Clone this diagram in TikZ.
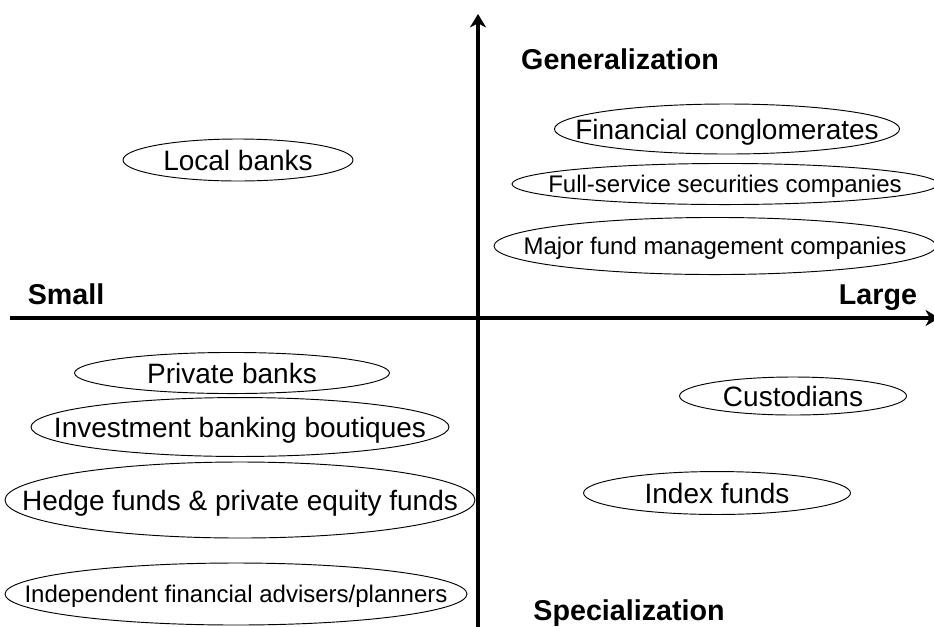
\documentclass[tikz,border=0pt]{standalone}
\usepackage{fontspec}
\setmainfont{Liberation Sans}
\setsansfont{Liberation Sans}
\usetikzlibrary{arrows.meta,shapes.geometric}

\begin{document}
\begin{tikzpicture}[x=0.75pt, y=-0.75pt, font=\sffamily, >={Stealth[length=10pt, width=12pt, inset=3pt]},
axis/.style={line width=3.2pt},
pole/.style={font=\sffamily\bfseries\fontsize{21.5}{24}\selectfont, inner sep=0pt, text height=15.4pt, text depth=0pt},
firm/.style={font=\sffamily\fontsize{21}{24}\selectfont, inner sep=0pt, text height=15pt, text depth=0pt},
firmsm/.style={font=\sffamily\fontsize{18}{21}\selectfont, inner sep=0pt, text height=12.9pt, text depth=0pt},
ring/.style={draw, line width=0.7pt}]

\useasboundingbox (0,0) rectangle (934,626);

\coordinate (west) at (10,318);
\coordinate (east) at (939,318);
\coordinate (south) at (478,634);
\coordinate (north) at (478,14);
\draw[axis, ->] (west) -- (east);
\draw[axis, ->] (south) -- (north);

\node[pole] (gen) at (620,59) {Generalization};
\node[pole] (spec) at (629,610) {Specialization};
\node[pole] (small) at (66,294) {Small};
\node[pole] (large) at (878,294) {Large};

% upper half
\node[firm] (local) at (238,160) {Local banks};
\node[firm] (fincong) at (727,129) {Financial conglomerates};
\node[firmsm] (fullsec) at (725,184) {Full-service securities companies};
\node[firmsm] (majfund) at (715,246) {Major fund management companies};
\draw[ring] (local.center) ellipse [x radius=86.25pt, y radius=15.75pt];
\draw[ring] (fincong.center) ellipse [x radius=129.4pt, y radius=18.75pt];
\draw[ring] (fullsec.center) ellipse [x radius=159.75pt, y radius=15.4pt];
\draw[ring] (majfund.center) ellipse [x radius=165.75pt, y radius=21.4pt];

% lower half
\node[firm] (privbank) at (232,373) {Private banks};
\node[firm] (ibb) at (240,427) {Investment banking boutiques};
\node[firm] (hedge) at (240,500) {Hedge funds \& private equity funds};
\node[firmsm] (ifa) at (236,594) {Independent financial advisers/planners};
\node[firm] (custod) at (793,396) {Custodians};
\node[firm] (index) at (717,493) {Index funds};
\draw[ring] (privbank.center) ellipse [x radius=118.1pt, y radius=15.4pt];
\draw[ring] (ibb.center) ellipse [x radius=156.75pt, y radius=22.1pt];
\draw[ring] (hedge.center) ellipse [x radius=176.25pt, y radius=28.5pt];
\draw[ring] (ifa.center) ellipse [x radius=173.25pt, y radius=23.25pt];
\draw[ring] (custod.center) ellipse [x radius=85.1pt, y radius=14.25pt];
\draw[ring] (index.center) ellipse [x radius=100.1pt, y radius=16.1pt];
\end{tikzpicture}
\end{document}
